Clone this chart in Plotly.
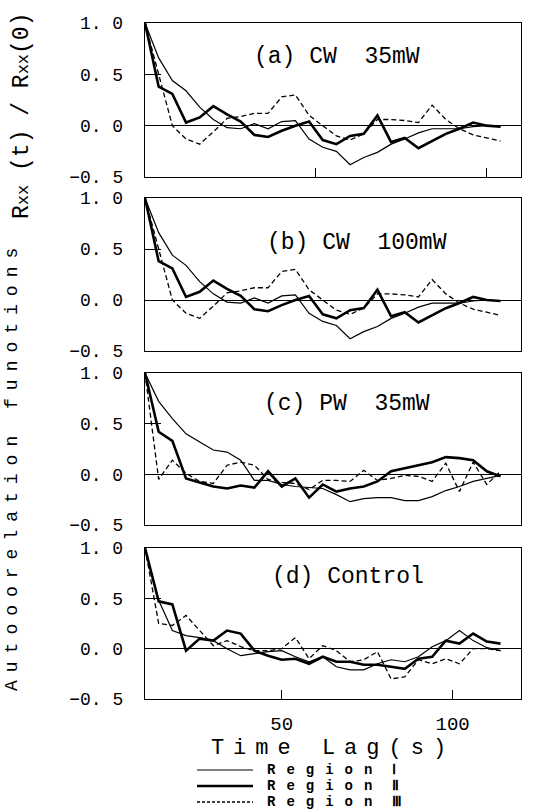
import plotly.graph_objects as go
from plotly.subplots import make_subplots

# ---------------- data ----------------
lags = [10, 14, 18, 22, 26, 30, 34, 38, 42, 46, 50, 54, 58, 62, 66, 70,
        74, 78, 82, 86, 90, 94, 98, 102, 106, 110, 114]

a_region1 = [1.0, 0.66, 0.44, 0.34, 0.18, 0.06, -0.02, -0.03, 0.02, -0.03, 0.04, 0.05, -0.13, -0.21,
             -0.25, -0.38, -0.31, -0.26, -0.18, -0.13, -0.07, -0.03, -0.03, -0.03, -0.01, 0.0, -0.01]
a_region2 = [1.0, 0.38, 0.31, 0.03, 0.08, 0.19, 0.11, 0.04, -0.09, -0.11, -0.05, 0.0, 0.04, -0.14,
             -0.18, -0.10, -0.08, 0.10, -0.16, -0.12, -0.22, -0.15, -0.08, -0.03, 0.03, 0.0, -0.01]
a_region3 = [1.0, 0.50, 0.0, -0.13, -0.18, -0.06, 0.07, 0.09, 0.12, 0.12, 0.28, 0.30, 0.10, 0.0,
             -0.10, -0.14, -0.08, 0.06, 0.06, 0.05, 0.03, 0.20, 0.06, -0.03, -0.09, -0.12, -0.15]

b_region1 = [1.0, 0.66, 0.44, 0.34, 0.18, 0.06, -0.02, -0.03, 0.02, -0.03, 0.04, 0.05, -0.13, -0.21,
             -0.25, -0.38, -0.31, -0.26, -0.18, -0.13, -0.07, -0.03, -0.03, -0.03, -0.01, 0.0, -0.01]
b_region2 = [1.0, 0.38, 0.31, 0.03, 0.08, 0.19, 0.11, 0.04, -0.09, -0.11, -0.05, 0.0, 0.04, -0.14,
             -0.18, -0.10, -0.08, 0.10, -0.16, -0.12, -0.22, -0.15, -0.08, -0.03, 0.03, 0.0, -0.01]
b_region3 = [1.0, 0.50, 0.0, -0.13, -0.18, -0.06, 0.07, 0.09, 0.12, 0.12, 0.28, 0.30, 0.10, 0.0,
             -0.10, -0.14, -0.08, 0.06, 0.06, 0.05, 0.03, 0.20, 0.06, -0.03, -0.09, -0.12, -0.15]

c_region1 = [1.0, 0.72, 0.55, 0.40, 0.32, 0.24, 0.22, 0.14, -0.06, -0.06, -0.10, -0.12, -0.13, -0.14,
             -0.20, -0.27, -0.24, -0.23, -0.23, -0.26, -0.26, -0.22, -0.16, -0.12, -0.07, -0.04, -0.01]
c_region2 = [1.0, 0.42, 0.33, -0.04, -0.08, -0.12, -0.14, -0.11, -0.13, 0.03, -0.12, -0.04, -0.23, -0.10,
             -0.17, -0.14, -0.12, -0.07, 0.03, 0.06, 0.09, 0.12, 0.17, 0.16, 0.14, 0.03, -0.02]
c_region3 = [1.0, -0.05, 0.14, 0.01, -0.07, -0.09, 0.09, 0.12, 0.09, -0.05, -0.08, -0.09, -0.15, -0.06,
             -0.06, -0.07, 0.04, -0.06, -0.04, -0.01, -0.02, -0.07, 0.11, -0.17, 0.12, -0.10, 0.03]

d_region1 = [1.0, 0.48, 0.18, 0.13, 0.11, 0.08, 0.0, -0.07, -0.05, -0.03, -0.02, -0.08, -0.13, -0.08,
             -0.18, -0.21, -0.21, -0.15, -0.11, -0.13, -0.08, 0.02, 0.08, 0.18, 0.08, 0.01, -0.02]
d_region2 = [1.0, 0.47, 0.44, -0.02, 0.10, 0.08, 0.18, 0.15, -0.02, -0.07, -0.11, -0.10, -0.15, -0.08,
             -0.13, -0.13, -0.16, -0.16, -0.18, -0.20, -0.10, -0.08, 0.08, 0.05, 0.15, 0.07, 0.05]
d_region3 = [1.0, 0.25, 0.23, 0.33, 0.18, 0.03, 0.08, 0.02, -0.02, -0.02, 0.0, 0.11, -0.10, 0.03,
             -0.02, -0.13, -0.11, -0.03, -0.30, -0.28, -0.11, -0.15, -0.10, -0.15, 0.0, 0.0, -0.02]

panel_titles = ["(a) CW  35mW", "(b) CW  100mW", "(c) PW  35mW", "(d) Control"]
region_words = ["Region", "Region", "Region"]
region_numerals = ["Ⅰ", "Ⅱ", "Ⅲ"]
y_tickvals = [-0.5, 0.0, 0.5, 1.0]
y_ticktext = ["−0. 5", "0. 0", "0. 5", "1. 0"]
x_tickvals_top = [60, 110]
x_tickvals_bottom = [50, 100]
x_ticktext_bottom = ["50", "100"]
x_title = "Time Lag(s)"
y_title_words = "Autooorelation funotions"

panels = [
    (a_region1, a_region2, a_region3),
    (b_region1, b_region2, b_region3),
    (c_region1, c_region2, c_region3),
    (d_region1, d_region2, d_region3),
]

# ---------------- figure ----------------
W, H = 539, 810
FONT = "Liberation Mono, Courier New, monospace"

fig = make_subplots(rows=4, cols=1)

line_styles = [
    dict(color="black", width=1.2),
    dict(color="black", width=2.6),
    dict(color="black", width=1.3, dash="5px,3px"),
]

for i, series in enumerate(panels):
    row = i + 1
    for k, vals in enumerate(series):
        fig.add_trace(
            go.Scatter(x=lags, y=vals, mode="lines", line=line_styles[k],
                       name=region_words[k] + " " + region_numerals[k],
                       legendgroup="r" + str(k), showlegend=False, hoverinfo="skip"),
            row=row, col=1)

# panel pixel boxes (top, bottom)
boxes = [(23, 177), (198, 351), (373, 525), (548, 699)]
x_left, x_right = 145, 521
xdom = [x_left / W, x_right / W]

for i, (top, bot) in enumerate(boxes):
    n = "" if i == 0 else str(i + 1)
    xa = dict(domain=xdom, range=[10, 120], showline=True, mirror=True,
              linecolor="black", linewidth=1.4, showgrid=False, zeroline=False,
              ticks="inside", ticklen=9, tickwidth=1.4, tickcolor="black",
              automargin=False,
              tickfont=dict(family=FONT, size=19, color="black"))
    if i == 0:
        xa.update(tickvals=x_tickvals_top, showticklabels=False)
    elif i == 3:
        xa.update(tickvals=x_tickvals_bottom, ticktext=x_ticktext_bottom,
                  showticklabels=True, ticklabelstandoff=7,
                  title=dict(text="<span style='letter-spacing:9px'>" + x_title + "</span>",
                             font=dict(family=FONT, size=22, color="black"), standoff=0))
    else:
        xa.update(tickvals=[], showticklabels=False)
    ya = dict(domain=[1 - bot / H, 1 - top / H], range=[-0.5, 1.0],
              showline=True, mirror=True, linecolor="black", linewidth=1.4,
              showgrid=False, zeroline=True, zerolinecolor="black", zerolinewidth=1.2,
              tickvals=y_tickvals, ticktext=y_ticktext, ticks="inside", ticklen=16,
              tickwidth=1.3, tickcolor="black", ticklabelstandoff=17, automargin=False,
              tickfont=dict(family=FONT, size=18, color="black"))
    fig.layout["xaxis" + n].update(xa)
    fig.layout["yaxis" + n].update(ya)

# panel labels
label_pos = [(337, 57), (357, 243), (347, 404), (348, 577)]
for txt, (px, py) in zip(panel_titles, label_pos):
    fig.add_annotation(x=px / W, y=1 - py / H, xref="paper", yref="paper",
                       text=txt, showarrow=False, xanchor="center", yanchor="middle",
                       font=dict(family=FONT, size=23, color="black"))

# y-axis title (two parts, rotated)
fig.add_annotation(x=12 / W, y=1 - 466 / H, xref="paper", yref="paper",
                   text="<span style='letter-spacing:8px'>" + y_title_words + "</span>",
                   textangle=-90, showarrow=False, xanchor="center", yanchor="middle",
                   font=dict(family=FONT, size=18, color="black"))
fig.add_annotation(x=22 / W, y=1 - 116 / H, xref="paper", yref="paper",
                   text="R<span style='font-size:17px'>xx</span> (t) / R<span style='font-size:17px'>xx</span>(0)",
                   textangle=-90, showarrow=False, xanchor="center", yanchor="middle",
                   font=dict(family=FONT, size=23, color="black"))

# legend (drawn below the plot: sample line + label per region)
legend_rows = [770, 786, 802]
legend_line_x = (197, 253)
legend_dash = [None, None, "3px,2px"]
for k, ry in enumerate(legend_rows):
    ln = dict(color="black", width=line_styles[k]["width"])
    if legend_dash[k]:
        ln["dash"] = legend_dash[k]
    fig.add_shape(type="line", xref="paper", yref="paper",
                  x0=legend_line_x[0] / W, x1=legend_line_x[1] / W,
                  y0=1 - ry / H, y1=1 - ry / H, line=ln)
    fig.add_annotation(x=265 / W, y=1 - ry / H, xref="paper", yref="paper",
                       text="<span style='letter-spacing:11px'>" + region_words[k] + "</span> "
                            + region_numerals[k],
                       showarrow=False, xanchor="left", yanchor="middle",
                       font=dict(family=FONT, size=14, color="black", weight="bold"))

fig.update_layout(
    width=W, height=H,
    margin=dict(l=0, r=0, t=0, b=0, autoexpand=False),
    paper_bgcolor="white", plot_bgcolor="white",
    showlegend=False,
)

fig.write_html("out.html",
               config={"displayModeBar": False},
               post_script="document.body.style.margin='0';document.body.style.overflow='hidden';")
